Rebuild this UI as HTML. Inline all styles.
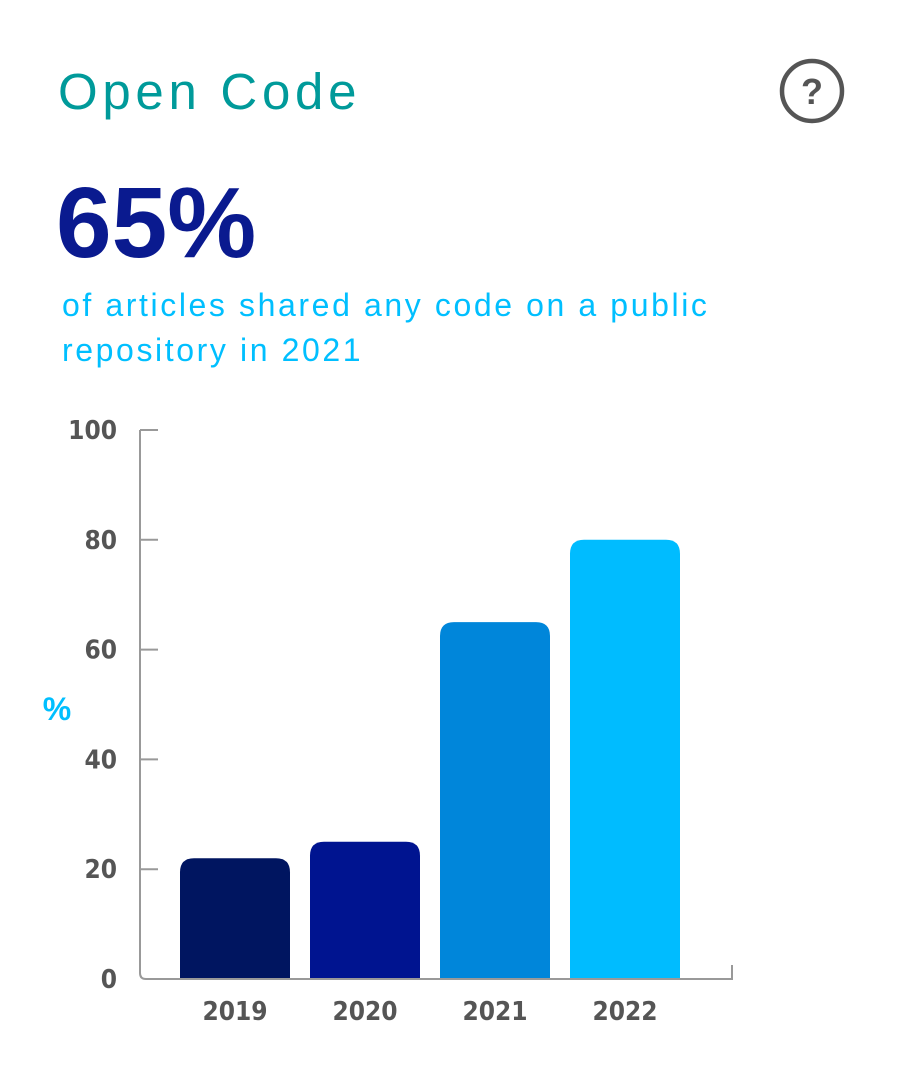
<!DOCTYPE html>
<html><head><meta charset="utf-8"><style>
body{margin:0;width:900px;height:1080px;background:#fff;font-family:"Liberation Sans",sans-serif;position:relative;overflow:hidden}
.t{position:absolute;margin:0}
</style></head><body>
<div class="t" style="left:58px;top:62px;font-size:51px;color:#009a9a;letter-spacing:4.7px">Open Code</div>
<svg style="position:absolute;left:778px;top:57px" width="68" height="68" viewBox="0 0 68 68"><circle cx="34" cy="34" r="30" fill="none" stroke="#555" stroke-width="4.5"/><text x="34" y="47" text-anchor="middle" font-family="Liberation Sans" font-weight="bold" font-size="36" fill="#555">?</text></svg>
<div class="t" style="left:56px;top:166px;font-size:100px;font-weight:bold;color:#0a1a8f">65%</div>
<div class="t" style="left:62px;top:283px;font-size:32px;line-height:45px;color:#00bfff;letter-spacing:2.6px">of articles shared any code on a public<br>repository in 2021</div>
<svg id="c" style="position:absolute;left:0;top:0" width="900" height="1080"></svg>
<script>
const categories=["2019","2020","2021","2022"];
const values=[22,25,65,80];
const colors=["#001560","#001490","#0086da","#00bcff"];
const ticks=[0,20,40,60,80,100];
const NS="http://www.w3.org/2000/svg",svg=document.getElementById('c');
const y=v=>979-v*5.49, x=i=>180+i*130;
function mk(t,a){const e=document.createElementNS(NS,t);for(const k in a)e.setAttribute(k,a[k]);svg.appendChild(e);return e;}
categories.forEach((c,i)=>{
 const x0=x(i),w=110,y0=y(values[i]),r=14,b=y(0);
 const p=mk('path',{d:`M${x0},${b}V${y0+r}Q${x0},${y0} ${x0+r},${y0}H${x0+w-r}Q${x0+w},${y0} ${x0+w},${y0+r}V${b}Z`,fill:colors[i]});
 
 
 const t=mk('text',{x:x0+w/2,y:1020,'text-anchor':'middle','font-size':26,'font-weight':'bold',fill:'#555','font-family':'DejaVu Sans Condensed, Liberation Sans, sans-serif'});
 t.textContent=c;
 
 
});
const ax=mk('path',{d:`M140,${y(100)}V${y(0)-6}Q140,${y(0)} 146,${y(0)}H732V${y(0)-14}`,fill:'none',stroke:'#999','stroke-width':2});


ticks.forEach(v=>{
 if(v>0){const l=mk('line',{x1:140,x2:158,y1:y(v),y2:y(v),stroke:'#999','stroke-width':2});
 
 }
 const t=mk('text',{x:117,y:y(v)+9,'text-anchor':'end','font-size':26,'font-weight':'bold',fill:'#555','font-family':'DejaVu Sans Condensed, Liberation Sans, sans-serif'});
 t.textContent=v;
 
 
});
const yt=mk('text',{x:57,y:720,'text-anchor':'middle','font-size':32,'font-weight':'bold',fill:'#00bfff','font-family':'Liberation Sans, sans-serif'});
yt.textContent='%';


</script>
</body></html>
